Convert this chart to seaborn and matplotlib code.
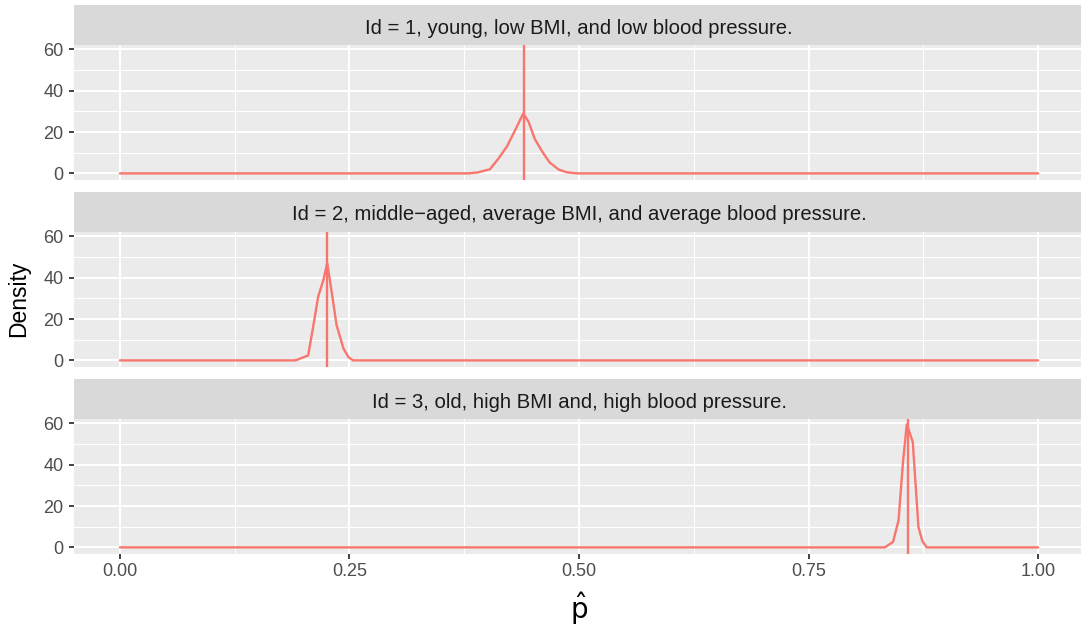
import numpy as np
import pandas as pd
import matplotlib
matplotlib.use("Agg")
import matplotlib.pyplot as plt
import seaborn as sns

sns.set_theme(style="darkgrid")
plt.rcParams['font.family'] = ['Liberation Sans', 'DejaVu Sans']

titles = [
    "Id = 1, young, low BMI, and low blood pressure.",
    "Id = 2, middle\u2212aged, average BMI, and average blood pressure.",
    "Id = 3, old, high BMI and, high blood pressure.",
]
# density curve points per facet (x = p-hat, y = density)
x1 = [0.0, 0.38, 0.39, 0.403, 0.412, 0.4215, 0.430, 0.4393, 0.445, 0.452, 0.460, 0.468, 0.478, 0.487, 0.498, 1.0]
y1 = [0.0, 0.0, 0.5, 2.0, 7.0, 13.0, 20.5, 29.0, 25.0, 16.5, 10.5, 5.3, 1.8, 0.5, 0.0, 0.0]
x2 = [0.0, 0.19, 0.1925, 0.205, 0.210, 0.216, 0.2215, 0.2258, 0.231, 0.236, 0.2435, 0.249, 0.254, 1.0]
y2 = [0.0, 0.0, 0.2, 2.4, 15.0, 31.0, 38.7, 47.0, 32.0, 17.0, 5.7, 1.5, 0.0, 0.0]
x3 = [0.0, 0.833, 0.842, 0.848, 0.853, 0.857, 0.8635, 0.8697, 0.874, 0.8787, 1.0]
y3 = [0.0, 0.0, 2.6, 13.0, 42.0, 59.5, 51.0, 9.8, 3.0, 0.0, 0.0]
vlines = [0.440, 0.2255, 0.858]

xs = [x1, x2, x3]
ys = [y1, y2, y3]

W, H = 1081, 630
fig = plt.figure(figsize=(W / 100, H / 100), dpi=100)
fig.patch.set_facecolor("white")

left_px, right_px = 74, 1084
strip_tops = [5, 192, 379]
strip_h = 40
panel_h = 135
col = "#F8766D"
ylo, yhi = -3.2, 62.1

for i in range(3):
    st = strip_tops[i]
    pt = st + strip_h
    pb = pt + panel_h
    ax = fig.add_axes([left_px / W, 1 - pb / H, (right_px - left_px) / W, panel_h / H])
    sax = fig.add_axes([left_px / W, 1 - pt / H, (right_px - left_px) / W, strip_h / H])
    sax.set_facecolor("#D9D9D9")
    sax.set_xticks([]); sax.set_yticks([])
    for s in sax.spines.values():
        s.set_visible(False)
    sax.text((579 - left_px) / (right_px - left_px), (pt - (st + 28.5)) / strip_h, titles[i],
             ha="center", va="baseline", fontsize=14.6,
             color="#1A1A1A", transform=sax.transAxes)

    df = pd.DataFrame({"x": xs[i], "y": ys[i]})
    ax.set_facecolor("#EBEBEB")
    sns.lineplot(data=df, x="x", y="y", ax=ax, color=col, lw=1.7, zorder=3)
    ax.axvline(vlines[i], color=col, lw=1.7, zorder=3)
    ax.set_xlim(-0.05, 1.05)
    ax.set_ylim(ylo, yhi)
    ax.set_xticks([0, 0.25, 0.5, 0.75, 1.0])
    ax.set_xticks([0.125, 0.375, 0.625, 0.875], minor=True)
    ax.set_yticks([0, 20, 40, 60])
    ax.set_yticks([10, 30, 50], minor=True)
    ax.grid(which="major", color="white", lw=1.5)
    ax.grid(which="minor", color="white", lw=0.75)
    for s in ax.spines.values():
        s.set_visible(False)
    ax.tick_params(axis="y", which="major", length=3.6, width=1.3, color="#333333",
                   labelsize=13, labelcolor="#4D4D4D", pad=4, left=True)
    ax.tick_params(which="minor", length=0)
    ax.set_xlabel("")
    ax.set_ylabel("")
    if i < 2:
        ax.tick_params(axis="x", which="major", length=0, labelbottom=False)
    else:
        ax.set_xticklabels(["0.00", "0.25", "0.50", "0.75", "1.00"])
        ax.tick_params(axis="x", which="major", length=3.6, width=1.3, color="#333333",
                       labelsize=13, labelcolor="#4D4D4D", pad=3, bottom=True)

fig.text(19 / W, 1 - 299 / H, "Density", rotation=90, ha="center", va="center",
         fontsize=16.5, color="black")
fig.text(579 / W, 1 - 609 / H, r"$\hat{\mathrm{p}}$", ha="center", va="center",
         fontsize=20, color="black")

fig.savefig("out.png", dpi=100)
